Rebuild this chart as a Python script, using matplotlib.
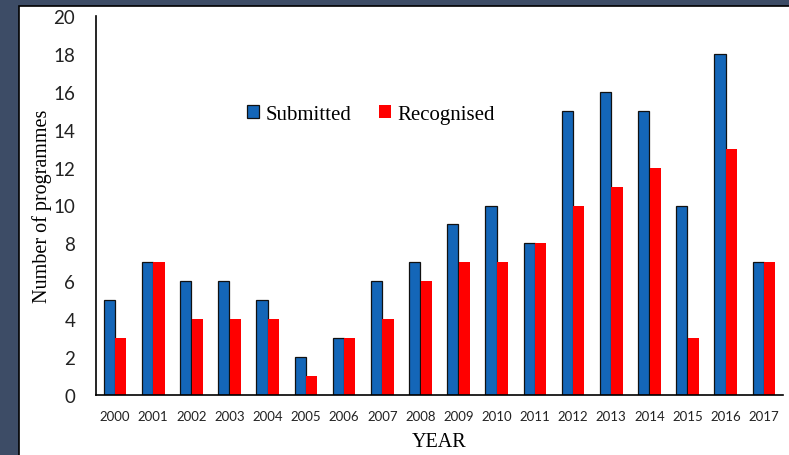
import matplotlib.pyplot as plt
import matplotlib.patches as mpatches
import numpy as np

years = [str(y) for y in range(2000, 2018)]
submitted = [5, 7, 6, 6, 5, 2, 3, 6, 7, 9, 10, 8, 15, 16, 15, 10, 18, 7]
recognised = [3, 7, 4, 4, 4, 1, 3, 4, 6, 7, 7, 8, 10, 11, 12, 3, 13, 7]

fig = plt.figure(figsize=(7.89, 4.56), dpi=100)
fig.patch.set_facecolor('#3d4c66')

# white panel with dark outline
panel = mpatches.Rectangle((19 / 789, -0.05), 1.0, 1 - 7 / 456 + 0.05,
                           transform=fig.transFigure, facecolor='white',
                           edgecolor='black', linewidth=1.2, zorder=-10)
fig.patches.append(panel)

ax = fig.add_axes([96 / 789, 1 - 396 / 456, (783 - 96) / 789, (396 - 17) / 456])
ax.set_facecolor('none')
ax.set_zorder(5)

x = np.arange(len(years))
w = 0.29
ax.bar(x - 0.15, submitted, w, color='#1466b8', edgecolor='#111111',
       linewidth=0.9, label='Submitted')
ax.bar(x + 0.15, recognised, w, color='#ff0000', label='Recognised')

ax.set_xlim(-0.5, len(years) - 0.5)
ax.set_ylim(0, 20)
ax.set_yticks(range(0, 21, 2))
ax.set_xticks(x)
ax.set_xticklabels(years)
ax.tick_params(axis='y', length=0, pad=15, labelsize=13.5)
ax.tick_params(axis='x', length=0, pad=11, labelsize=9.5)
for lab in ax.get_xticklabels() + ax.get_yticklabels():
    lab.set_family('Lato')
    lab.set_color('#222222')

for s in ['top', 'right']:
    ax.spines[s].set_visible(False)
for s in ['left', 'bottom']:
    ax.spines[s].set_linewidth(1.2)

ax.set_ylabel('Number of programmes', family='Liberation Serif', fontsize=14.5)
ax.yaxis.set_label_coords(-44 / 687, 0.5)
ax.set_xlabel('YEAR', family='Liberation Serif', fontsize=14.5, labelpad=7)

ax.legend(loc='center', bbox_to_anchor=(0.4, 0.74), ncol=2, frameon=False,
          prop={'family': 'Liberation Serif', 'size': 15}, handlelength=0.6,
          handleheight=0.6, handletextpad=0.3, columnspacing=1.3)

fig.savefig('out.png', dpi=100, facecolor=fig.get_facecolor())
